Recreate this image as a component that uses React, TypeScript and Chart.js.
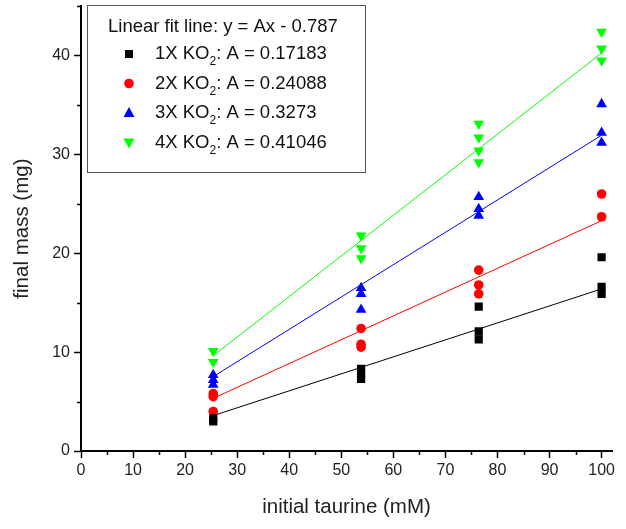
import React, { useEffect, useRef } from 'react';
import { Chart, registerables } from 'chart.js';

Chart.register(...registerables);

// ---- data ----
const x1 = [25.4, 25.4, 53.8, 53.8, 53.8, 76.4, 76.4, 76.4, 100, 100, 100];
const y1 = [3.0, 3.3, 8.3, 7.8, 7.3, 14.6, 12.1, 11.3, 19.6, 16.6, 15.9];

const x2 = [25.4, 25.4, 25.4, 53.8, 53.8, 53.8, 76.4, 76.4, 76.4, 100, 100];
const y2 = [5.8, 5.5, 4.0, 12.4, 10.8, 10.5, 18.3, 16.8, 15.9, 26.0, 23.7];

const x3 = [25.4, 25.4, 25.4, 53.8, 53.8, 53.8, 76.4, 76.4, 76.4, 100, 100, 100];
const y3 = [7.7, 7.2, 6.7, 16.5, 15.9, 14.3, 25.7, 24.5, 23.8, 35.1, 32.2, 31.2];

const x4 = [25.4, 25.4, 53.8, 53.8, 53.8, 76.4, 76.4, 76.4, 76.4, 100, 100, 100];
const y4 = [10.1, 9.0, 21.8, 20.5, 19.5, 33.1, 31.7, 30.4, 29.2, 42.4, 40.7, 39.5];

// linear fit y = A x + B
const seriesNames = ['1X', '2X', '3X', '4X'];
const slopes = [0.17183, 0.24088, 0.3273, 0.41046];
const slopeLabels = ['0.17183', '0.24088', '0.3273', '0.41046'];
const intercept = -0.787;
const fitRange = [25.4, 100];

const xTicks = [0, 10, 20, 30, 40, 50, 60, 70, 80, 90, 100];
const yTicks = [0, 10, 20, 30, 40];

const colors = ['#000000', '#ff0000', '#0000ff', '#00ff00'];
const shapes = ['square', 'circle', 'triangle', 'down'];

const FONT = '"Liberation Sans", Arial, sans-serif';

function pts(xs: number[], ys: number[]) {
  return xs.map((x, i) => ({ x, y: ys[i] }));
}

function drawMarker(ctx: CanvasRenderingContext2D, shape: string, x: number, y: number, color: string) {
  ctx.save();
  ctx.fillStyle = color;
  ctx.beginPath();
  if (shape === 'square') {
    ctx.rect(x - 4, y - 4, 8, 8);
  } else if (shape === 'circle') {
    ctx.arc(x, y, 4.8, 0, Math.PI * 2);
  } else if (shape === 'triangle') {
    ctx.moveTo(x, y - 6);
    ctx.lineTo(x + 5.5, y + 4);
    ctx.lineTo(x - 5.5, y + 4);
    ctx.closePath();
  } else {
    ctx.moveTo(x, y + 6);
    ctx.lineTo(x + 5.5, y - 4);
    ctx.lineTo(x - 5.5, y - 4);
    ctx.closePath();
  }
  ctx.fill();
  ctx.restore();
}

const minorTicksPlugin = {
  id: 'minorTicks',
  afterDraw(chart: any) {
    const ctx = chart.ctx as CanvasRenderingContext2D;
    const xs = chart.scales.x;
    const ys = chart.scales.y;
    ctx.save();
    ctx.strokeStyle = '#000';
    ctx.lineWidth = 1.5;
    for (let v = 5; v <= 100; v += 10) {
      const px = Math.round(xs.getPixelForValue(v)) + 0.5;
      ctx.beginPath();
      ctx.moveTo(px, xs.top);
      ctx.lineTo(px, xs.top + 4);
      ctx.stroke();
    }
    for (let v = 5; v <= 45; v += 10) {
      const py = Math.round(ys.getPixelForValue(v)) + 0.5;
      ctx.beginPath();
      ctx.moveTo(ys.right, py);
      ctx.lineTo(ys.right - 4, py);
      ctx.stroke();
    }
    ctx.restore();
  },
};

const legendPlugin = {
  id: 'fitLegend',
  afterDraw(chart: any) {
    const ctx = chart.ctx as CanvasRenderingContext2D;
    ctx.save();
    ctx.fillStyle = '#ffffff';
    ctx.fillRect(87.5, 5.5, 278, 167);
    ctx.strokeStyle = '#555555';
    ctx.lineWidth = 1;
    ctx.strokeRect(87.5, 5.5, 278, 167);

    ctx.fillStyle = '#111111';
    ctx.textBaseline = 'middle';
    ctx.textAlign = 'left';
    ctx.font = `18.5px ${FONT}`;
    ctx.fillText(`Linear fit line: y = Ax - ${Math.abs(intercept)}`, 108, 27);

    const rowY = [54, 83.5, 113, 142.5];
    seriesNames.forEach((name, i) => {
      const y = rowY[i];
      drawMarker(ctx, shapes[i], 129, y, colors[i]);
      ctx.fillStyle = '#111111';
      ctx.font = `18.5px ${FONT}`;
      let x = 155;
      const t1 = `${name} KO`;
      ctx.fillText(t1, x, y);
      x += ctx.measureText(t1).width;
      ctx.font = `12px ${FONT}`;
      ctx.fillText('2', x, y + 8);
      x += ctx.measureText('2').width;
      ctx.font = `18.5px ${FONT}`;
      ctx.fillText(`: A = ${slopeLabels[i]}`, x, y);
    });
    ctx.restore();
  },
};

export default function App() {
  const ref = useRef<HTMLCanvasElement>(null);

  useEffect(() => {
    document.body.style.margin = '0';
    const canvas = ref.current;
    if (!canvas) return;

    const raw = [pts(x1, y1), pts(x2, y2), pts(x3, y3), pts(x4, y4)];
    const pointStyles: any[] = ['rect', 'circle', 'triangle', 'triangle'];
    const radii = [5.8, 4.8, 6.2, 6.2];
    const rotations = [0, 0, 0, 180];

    const pointSets = raw.map((data, i) => ({
      label: seriesNames[i],
      data,
      showLine: false,
      pointStyle: pointStyles[i],
      pointRadius: radii[i],
      pointRotation: rotations[i],
      pointBackgroundColor: colors[i],
      pointBorderColor: colors[i],
      pointBorderWidth: 0,
      order: 1,
    }));

    const fitSets = slopes.map((a, i) => ({
      label: `${seriesNames[i]} fit`,
      data: fitRange.map((x) => ({ x, y: a * x + intercept })),
      showLine: true,
      borderColor: colors[i],
      borderWidth: 1,
      pointRadius: 0,
      order: 2,
    }));

    const chart = new Chart(canvas, {
      type: 'scatter',
      data: { datasets: [...fitSets, ...pointSets] as any },
      options: {
        animation: false,
        responsive: false,
        devicePixelRatio: 1,
        layout: { padding: { top: 5, right: 14, left: 0, bottom: 0 } },
        plugins: {
          legend: { display: false },
          tooltip: { enabled: false },
        },
        scales: {
          x: {
            type: 'linear',
            min: 0,
            max: 102,
            afterFit: (s: any) => {
              s.height = 78;
              s.paddingLeft = 0;
              s.paddingRight = 0;
            },
            afterBuildTicks: (s: any) => {
              s.ticks = xTicks.map((v) => ({ value: v }));
            },
            border: { color: '#000', width: 2 },
            grid: { drawOnChartArea: false, tickLength: 7, tickColor: '#000', tickWidth: 1.5 },
            ticks: {
              color: '#222',
              font: { family: FONT, size: 16 },
              padding: 3,
              maxRotation: 0,
              autoSkip: false,
            },
            title: {
              display: true,
              text: 'initial taurine (mM)',
              color: '#222',
              font: { family: FONT, size: 20.5 },
              padding: { top: 0, bottom: 9 },
            },
          },
          y: {
            type: 'linear',
            min: 0,
            max: 45,
            afterFit: (s: any) => {
              s.width = 81;
              s.paddingTop = 0;
              s.paddingBottom = 0;
            },
            afterBuildTicks: (s: any) => {
              s.ticks = yTicks.map((v) => ({ value: v }));
            },
            border: { color: '#000', width: 2 },
            grid: { drawOnChartArea: false, tickLength: 7, tickColor: '#000', tickWidth: 1.5 },
            ticks: {
              color: '#222',
              font: { family: FONT, size: 16 },
              padding: 4,
              autoSkip: false,
            },
            title: {
              display: true,
              text: 'final mass (mg)',
              color: '#222',
              font: { family: FONT, size: 20.5 },
              padding: { top: 10, bottom: 0 },
            },
          },
        },
      } as any,
      plugins: [minorTicksPlugin, legendPlugin],
    });

    return () => chart.destroy();
  }, []);

  return <canvas ref={ref} width={626} height={529} style={{ display: 'block' }} />;
}
